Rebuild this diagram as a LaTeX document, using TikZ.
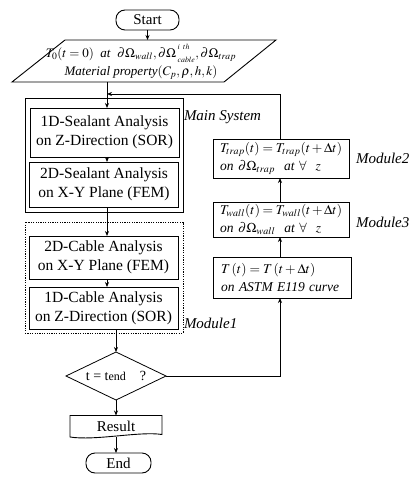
\documentclass[tikz,border=0pt]{standalone}
\usepackage{mathptmx}
\usepackage[no-math]{fontspec}
\setmainfont{Liberation Serif}
\usetikzlibrary{shapes.geometric,arrows.meta}
\begin{document}
\begin{tikzpicture}[x=1pt,y=-1pt,
  every node/.style={inner sep=0pt, outer sep=0pt},
  box/.style={draw, line width=0.9pt, font=\fontsize{15.5}{19}\selectfont, align=center, minimum width=149pt},
  rbox/.style={draw, line width=0.9pt, font=\fontsize{13.5}{18}\selectfont\itshape, align=left, text width=122pt, minimum width=136pt},
  term/.style={draw, rounded corners=9pt, line width=0.9pt, font=\fontsize{15}{18}\selectfont},
  lbl/.style={font=\fontsize{15}{18}\selectfont\itshape, anchor=west},
  arr/.style={-{Stealth[length=5pt,width=4pt]}, line width=0.8pt},
  ln/.style={line width=0.8pt},
]
\useasboundingbox (0,0) rectangle (417,478);

% terminals
\node[term, minimum width=63pt, minimum height=20pt] (start) at (147.5,20) {Start};
\node[term, minimum width=65pt, minimum height=20pt] (end) at (118.5,463) {End};

% input parallelogram
\coordinate (ptop) at (147.5,40);
\coordinate (pbot) at (107,82);
\draw[line width=0.9pt] (65,40) -- (276,40) -- (224,82) -- (12,82) -- cycle;
\node[font=\fontsize{13}{18}\selectfont\itshape, align=center] (para) at (141,62)
  {$T_0(t=0)$\ \ at\ \ $\partial\Omega_{wall},\partial\Omega\,{}_{\raisebox{-1pt}{$\scriptscriptstyle cable$}}^{\raisebox{3.5pt}{$\scriptscriptstyle i\ th$}},\partial\Omega_{trap}$\\
   Material property$(C_p,\rho,h,k)$};

% group frames
\node[draw, line width=0.9pt, minimum width=158pt, minimum height=114pt] (mainsys) at (104,155) {};
\node[draw, line width=0.8pt, dash pattern=on 1.2pt off 1.2pt, minimum width=158pt, minimum height=111pt] (modone) at (104,277.5) {};

% main column boxes
\node[box, minimum height=49pt] (b1) at (104.5,132.5) {1D-Sealant Analysis\\on Z-Direction (SOR)};
\node[box, minimum height=45pt] (b2) at (104,184.5) {2D-Sealant Analysis\\on X-Y Plane (FEM)};
\node[box, minimum height=43pt] (b3) at (103.5,257.5) {2D-Cable Analysis\\on X-Y Plane (FEM)};
\node[box, minimum height=42pt] (b4) at (103.5,308) {1D-Cable Analysis\\on Z-Direction (SOR)};

% decision
\node[draw, diamond, aspect=2.08, minimum width=100pt, minimum height=48pt, line width=0.8pt,
      font=\fontsize{14}{17}\selectfont] (dec) at (116,376) {t = t{\fontsize{12}{14}\selectfont end}\quad ?};

% result (document shape)
\node[minimum width=92pt, minimum height=21pt, font=\fontsize{15}{18}\selectfont] (res) at (116,426) {Result};
\draw[line width=0.9pt] (70,415.5) -- (162,415.5) -- (162,434.5)
   .. controls (140,431) and (95,441) .. (70,437) -- cycle;

% right column
\node[rbox, minimum height=39pt] (trap) at (281,158.5)
  {$T_{trap}(t)=T_{trap}(t+\Delta t)$\\on $\partial\Omega_{trap}$\ \ at $\forall$\ \ $z$};
\node[rbox, minimum height=35pt] (wall) at (281,219.5)
  {$T_{wall}(t)=T_{wall}(t+\Delta t)$\\on $\partial\Omega_{wall}$\ \ at $\forall$\ \ $z$};
\node[rbox, minimum height=41pt, minimum width=138pt] (tt) at (282,277.5)
  {$T\,(t)=T\,(t+\Delta t)$\\on ASTM E119 curve};

% labels
\node[lbl] (lmain) at (184,117) {Main System};
\node[lbl] (lm2) at (356,158) {Module2};
\node[lbl] (lm3) at (356,222) {Module3};
\node[lbl] (lm1) at (184,323) {Module1};

% connectors
\coordinate (fb) at (107,94);
\coordinate (lp) at (280,376);
\draw[arr] (start.south) -- (ptop);
\draw[arr] (pbot) -- (pbot |- b1.north);
\draw[arr] (trap.north -| lp) |- (fb);
\draw[arr] (b1.south -| pbot) -- (b2.north -| pbot);
\draw[arr] (b2.south -| pbot) -- (b3.north -| pbot);
\draw[arr] (b3.south -| pbot) -- (b4.north -| pbot);
\draw[arr] (b4.south -| dec.north) -- (dec.north);
\draw[arr] (dec.south) -- (res.north);
\draw[arr] (res.south) -- (res.south |- end.north);
\draw[arr] (dec.east) -- (lp) -- (lp |- tt.south);
\draw[arr] (tt.north -| lp) -- (wall.south -| lp);
\draw[arr] (wall.north -| lp) -- (trap.south -| lp);
\end{tikzpicture}
\end{document}
